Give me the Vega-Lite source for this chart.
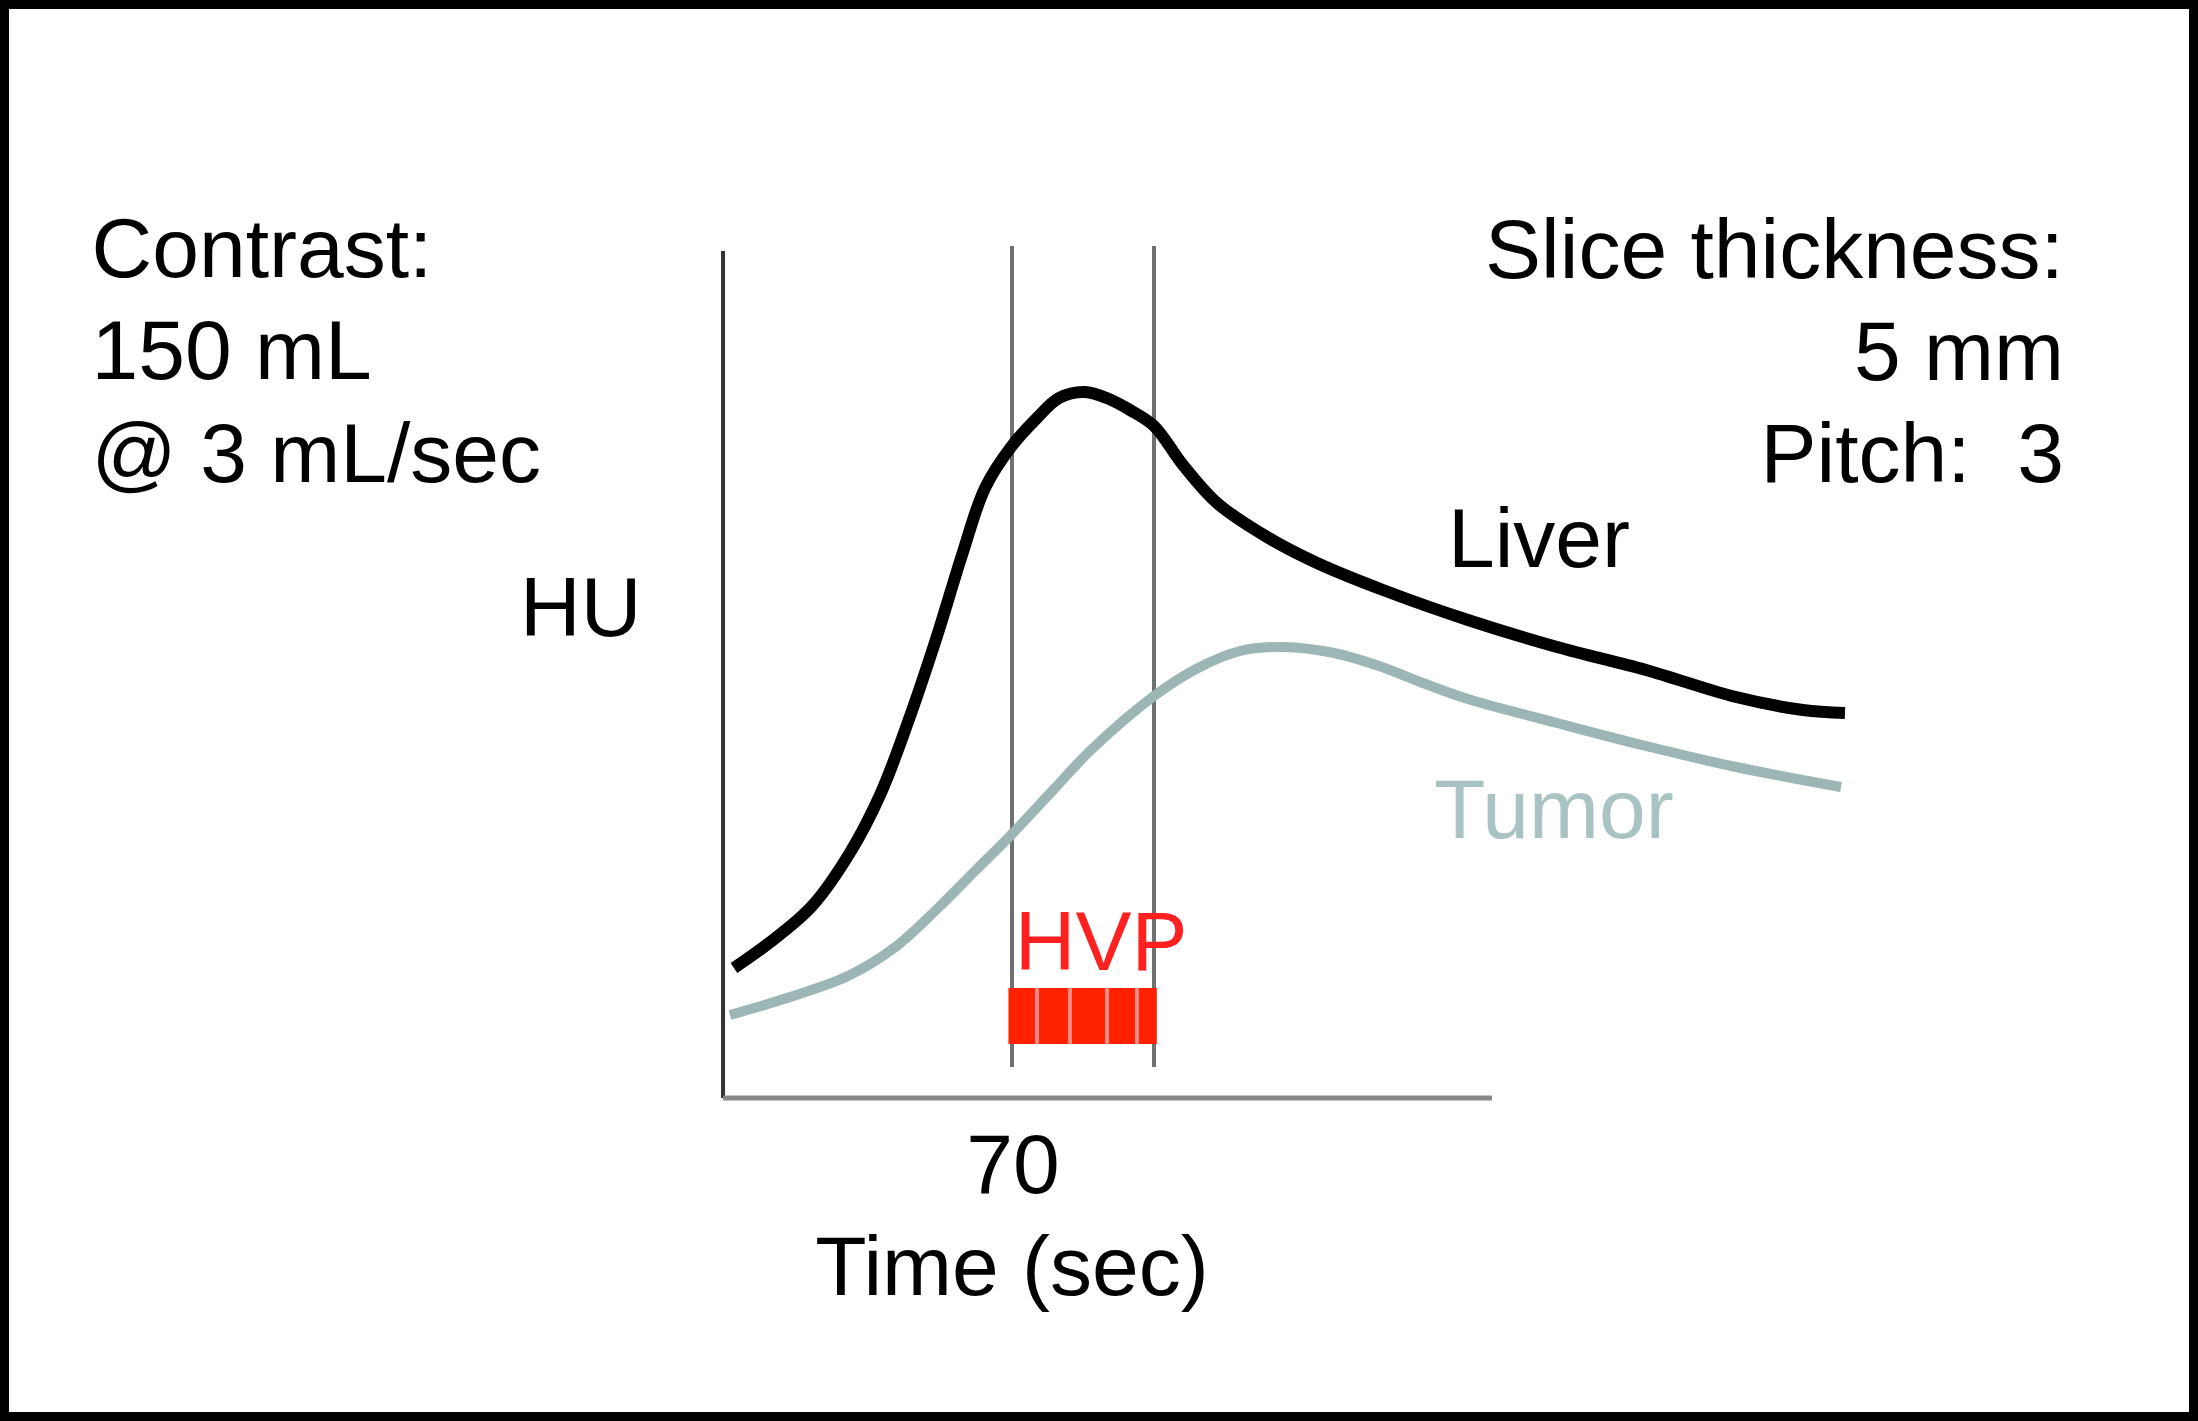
{
  "$schema": "https://vega.github.io/schema/vega-lite/v6.json",
  "width": 2198,
  "height": 1421,
  "autosize": {"type": "fit", "contains": "padding"},
  "padding": 0,
  "background": "white",
  "config": {
    "view": {"stroke": "black", "strokeWidth": 18, "fill": "white"},
    "text": {"font": "Liberation Sans", "fontSize": 84, "baseline": "alphabetic"}
  },
  "datasets": {
    "curves": [
      {"series": "Liver", "t": 50.42, "hu": 26.0},
      {"series": "Liver", "t": 52.89, "hu": 31.0},
      {"series": "Liver", "t": 55.92, "hu": 38.4},
      {"series": "Liver", "t": 58.66, "hu": 49.4},
      {"series": "Liver", "t": 60.77, "hu": 61.0},
      {"series": "Liver", "t": 62.75, "hu": 75.8},
      {"series": "Liver", "t": 64.72, "hu": 92.4},
      {"series": "Liver", "t": 66.48, "hu": 108.6},
      {"series": "Liver", "t": 68.10, "hu": 122.0},
      {"series": "Liver", "t": 69.93, "hu": 130.2},
      {"series": "Liver", "t": 71.76, "hu": 136.0},
      {"series": "Liver", "t": 73.31, "hu": 140.0},
      {"series": "Liver", "t": 75.14, "hu": 141.2},
      {"series": "Liver", "t": 76.83, "hu": 139.8},
      {"series": "Liver", "t": 78.31, "hu": 137.6},
      {"series": "Liver", "t": 80.00, "hu": 134.4},
      {"series": "Liver", "t": 82.04, "hu": 126.6},
      {"series": "Liver", "t": 84.44, "hu": 119.0},
      {"series": "Liver", "t": 87.96, "hu": 112.2},
      {"series": "Liver", "t": 91.48, "hu": 107.0},
      {"series": "Liver", "t": 96.13, "hu": 101.6},
      {"series": "Liver", "t": 102.11, "hu": 95.6},
      {"series": "Liver", "t": 108.38, "hu": 90.2},
      {"series": "Liver", "t": 114.65, "hu": 85.6},
      {"series": "Liver", "t": 120.99, "hu": 80.2},
      {"series": "Liver", "t": 125.70, "hu": 77.6},
      {"series": "Liver", "t": 128.66, "hu": 77.0},
      {"series": "Tumor", "t": 50.14, "hu": 16.6},
      {"series": "Tumor", "t": 54.15, "hu": 20.0},
      {"series": "Tumor", "t": 58.45, "hu": 24.4},
      {"series": "Tumor", "t": 61.69, "hu": 30.0},
      {"series": "Tumor", "t": 64.72, "hu": 37.8},
      {"series": "Tumor", "t": 67.46, "hu": 45.6},
      {"series": "Tumor", "t": 69.93, "hu": 52.6},
      {"series": "Tumor", "t": 73.03, "hu": 62.0},
      {"series": "Tumor", "t": 75.56, "hu": 69.6},
      {"series": "Tumor", "t": 80.00, "hu": 80.4},
      {"series": "Tumor", "t": 83.10, "hu": 86.0},
      {"series": "Tumor", "t": 86.06, "hu": 89.4},
      {"series": "Tumor", "t": 89.08, "hu": 90.2},
      {"series": "Tumor", "t": 92.68, "hu": 89.0},
      {"series": "Tumor", "t": 95.85, "hu": 86.4},
      {"series": "Tumor", "t": 98.94, "hu": 83.0},
      {"series": "Tumor", "t": 102.11, "hu": 79.8},
      {"series": "Tumor", "t": 108.38, "hu": 75.0},
      {"series": "Tumor", "t": 114.65, "hu": 70.4},
      {"series": "Tumor", "t": 120.99, "hu": 66.2},
      {"series": "Tumor", "t": 128.38, "hu": 62.2}
    ],
    "phase": [
      {"t": 70, "hu": 6.2, "hu2": 170.4},
      {"t": 80, "hu": 6.2, "hu2": 170.4}
    ],
    "yaxis": [{"t": 49.65, "hu": 0, "hu2": 169.4}],
    "xaxis": [{"t": 49.65, "t2": 103.8, "hu": 0}],
    "hvp": [{"t": 69.75, "t2": 80.2, "hu": 10.8, "hu2": 22.0}],
    "stripes": [
      {"t": 71.76, "hu": 10.8, "hu2": 22.0},
      {"t": 74.08, "hu": 10.8, "hu2": 22.0},
      {"t": 76.69, "hu": 10.8, "hu2": 22.0},
      {"t": 78.80, "hu": 10.8, "hu2": 22.0}
    ],
    "leftText": [
      {"t": 5.18, "hu": 164.2, "label": "Contrast:"},
      {"t": 5.18, "hu": 143.8, "label": "150 mL"},
      {"t": 5.18, "hu": 123.2, "label": "@ 3 mL/sec"},
      {"t": 35.35, "hu": 92.4, "label": "HU"},
      {"t": 100.7, "hu": 106.2, "label": "Liver"}
    ],
    "rightText": [
      {"t": 144.08, "hu": 164.0, "label": "Slice thickness:"},
      {"t": 144.08, "hu": 143.6, "label": "5 mm"},
      {"t": 144.08, "hu": 123.2, "label": "Pitch:\u00a0 3"}
    ],
    "centerText": [
      {"t": 70.07, "hu": -19.0, "label": "70"},
      {"t": 70.0, "hu": -39.4, "label": "Time (sec)"}
    ],
    "hvpText": [{"t": 70.2, "hu": 25.6, "label": "HVP"}],
    "tumorText": [{"t": 99.72, "hu": 52.0, "label": "Tumor"}]
  },
  "layer": [
    {
      "data": {"name": "phase"},
      "mark": {"type": "rule", "color": "#707070", "strokeWidth": 4},
      "encoding": {
        "x": {"field": "t", "type": "quantitative", "scale": {"domain": [-1.268, 153.521], "nice": false, "zero": false}, "axis": null},
        "y": {"field": "hu", "type": "quantitative", "scale": {"domain": [-64.6, 219.6], "nice": false, "zero": false}, "axis": null},
        "y2": {"field": "hu2"}
      }
    },
    {
      "data": {"name": "yaxis"},
      "mark": {"type": "rule", "color": "#333333", "strokeWidth": 4},
      "encoding": {
        "x": {"field": "t", "type": "quantitative", "axis": null},
        "y": {"field": "hu", "type": "quantitative", "axis": null},
        "y2": {"field": "hu2"}
      }
    },
    {
      "data": {"name": "xaxis"},
      "mark": {"type": "rule", "color": "#888888", "strokeWidth": 5},
      "encoding": {
        "x": {"field": "t", "type": "quantitative", "axis": null},
        "x2": {"field": "t2"},
        "y": {"field": "hu", "type": "quantitative", "axis": null}
      }
    },
    {
      "data": {"name": "curves"},
      "transform": [{"filter": "datum.series === 'Tumor'"}],
      "mark": {"type": "line", "color": "#9cb6b6", "strokeWidth": 10, "interpolate": "catmull-rom"},
      "encoding": {
        "x": {"field": "t", "type": "quantitative", "axis": null},
        "y": {"field": "hu", "type": "quantitative", "axis": null}
      }
    },
    {
      "data": {"name": "curves"},
      "transform": [{"filter": "datum.series === 'Liver'"}],
      "mark": {"type": "line", "color": "#000000", "strokeWidth": 12, "interpolate": "catmull-rom"},
      "encoding": {
        "x": {"field": "t", "type": "quantitative", "axis": null},
        "y": {"field": "hu", "type": "quantitative", "axis": null}
      }
    },
    {
      "data": {"name": "hvp"},
      "mark": {"type": "rect", "color": "#ff2200"},
      "encoding": {
        "x": {"field": "t", "type": "quantitative", "axis": null},
        "x2": {"field": "t2"},
        "y": {"field": "hu", "type": "quantitative", "axis": null},
        "y2": {"field": "hu2"}
      }
    },
    {
      "data": {"name": "stripes"},
      "mark": {"type": "rule", "color": "#ff8a8a", "strokeWidth": 4},
      "encoding": {
        "x": {"field": "t", "type": "quantitative", "axis": null},
        "y": {"field": "hu", "type": "quantitative", "axis": null},
        "y2": {"field": "hu2"}
      }
    },
    {
      "data": {"name": "leftText"},
      "mark": {"type": "text", "align": "left", "color": "#000000"},
      "encoding": {
        "x": {"field": "t", "type": "quantitative", "axis": null},
        "y": {"field": "hu", "type": "quantitative", "axis": null},
        "text": {"field": "label"}
      }
    },
    {
      "data": {"name": "rightText"},
      "mark": {"type": "text", "align": "right", "color": "#000000"},
      "encoding": {
        "x": {"field": "t", "type": "quantitative", "axis": null},
        "y": {"field": "hu", "type": "quantitative", "axis": null},
        "text": {"field": "label"}
      }
    },
    {
      "data": {"name": "centerText"},
      "mark": {"type": "text", "align": "center", "color": "#000000"},
      "encoding": {
        "x": {"field": "t", "type": "quantitative", "axis": null},
        "y": {"field": "hu", "type": "quantitative", "axis": null},
        "text": {"field": "label"}
      }
    },
    {
      "data": {"name": "hvpText"},
      "mark": {"type": "text", "align": "left", "color": "#ff2020"},
      "encoding": {
        "x": {"field": "t", "type": "quantitative", "axis": null},
        "y": {"field": "hu", "type": "quantitative", "axis": null},
        "text": {"field": "label"}
      }
    },
    {
      "data": {"name": "tumorText"},
      "mark": {"type": "text", "align": "left", "color": "#a9c2c2"},
      "encoding": {
        "x": {"field": "t", "type": "quantitative", "axis": null},
        "y": {"field": "hu", "type": "quantitative", "axis": null},
        "text": {"field": "label"}
      }
    }
  ]
}
